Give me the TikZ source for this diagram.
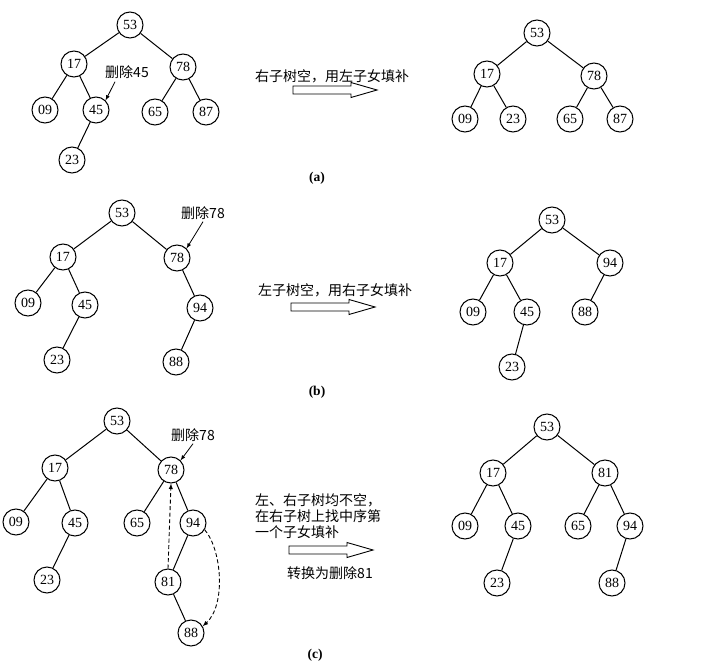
\documentclass[tikz,border=0pt]{standalone}
\usepackage{fontspec}
\setmainfont{Liberation Serif}
\newfontfamily\cjk{Noto Sans CJK SC}

% hollow arrow between the two trees
\newcommand\fatarrow[1]{\draw[line width=0.9pt, line join=miter] (#1) ++(-42, -4) -- ++(58, 0) -- ++(0, -3.5) -- ++(26, 7.5) -- ++(-26, 7.5) -- ++(0, -3.5) -- ++(-58, 0) -- cycle;}

\begin{document}
\begin{tikzpicture}[x=1pt, y=-1pt,
  num/.style={draw, circle, line width=1pt, minimum size=26pt, inner sep=0pt, font=\fontsize{14}{14}\selectfont},
  link/.style={line width=1pt},
  remark/.style={font=\cjk\fontsize{14}{16}\selectfont, inner sep=0pt},
  pointer/.style={line width=0.8pt, -latex},
  hint/.style={line width=0.9pt, dash pattern=on 4pt off 2.5pt, -latex},
  sublabel/.style={font=\bfseries\fontsize{13.5}{14}\selectfont}]
\useasboundingbox (0, 0) rectangle (713, 669);
% (a)
\node[num] (a53) at (130, 25) {53};
\node[num] (a17) at (74, 64) {17};
\node[num] (a78) at (183, 67) {78};
\node[num] (a09) at (45, 110) {09};
\node[num] (a45) at (96, 110) {45};
\node[num] (a65) at (155, 112) {65};
\node[num] (a87) at (206, 112) {87};
\node[num] (a23) at (72, 160) {23};
\draw[link] (a53) -- (a17) (a53) -- (a78) (a17) -- (a09) (a17) -- (a45) (a45) -- (a23) (a78) -- (a65) (a78) -- (a87);
\node[remark] (adel) at (127, 72) {删除45};
\draw[pointer] ([xshift=-12pt, yshift=-3pt]adel.south) -- (a45.north east);
\node[remark, anchor=west] (atext) at (255, 76) {右子树空，用左子女填补};
\coordinate (aarrow) at (335, 90);
\fatarrow{aarrow}
\node[sublabel] (acap) at (317, 178) {(a)};
\node[num] (ar53) at (537, 33) {53};
\node[num] (ar17) at (487, 74) {17};
\node[num] (ar78) at (594, 76) {78};
\node[num] (ar09) at (465, 119) {09};
\node[num] (ar23) at (513, 119) {23};
\node[num] (ar65) at (570, 119) {65};
\node[num] (ar87) at (620, 119) {87};
\draw[link] (ar53) -- (ar17) (ar53) -- (ar78) (ar17) -- (ar09) (ar17) -- (ar23) (ar78) -- (ar65) (ar78) -- (ar87);
% (b)
\node[num] (b53) at (122, 213) {53};
\node[num] (b17) at (63, 257) {17};
\node[num] (b78) at (177, 258) {78};
\node[num] (b09) at (28, 303) {09};
\node[num] (b45) at (85, 305) {45};
\node[num] (b94) at (200, 308) {94};
\node[num] (b23) at (57, 360) {23};
\node[num] (b88) at (176, 362) {88};
\draw[link] (b53) -- (b17) (b53) -- (b78) (b17) -- (b09) (b17) -- (b45) (b45) -- (b23) (b78) -- (b94) (b94) -- (b88);
\node[remark] (bdel) at (203, 213) {删除78};
\draw[pointer] ([yshift=-2pt]bdel.south) -- (b78.north east);
\node[remark, anchor=west] (btext) at (258, 290) {左子树空，用右子女填补};
\coordinate (barrow) at (333, 307);
\fatarrow{barrow}
\node[sublabel] (bcap) at (317, 392) {(b)};
\node[num] (br53) at (552, 220) {53};
\node[num] (br17) at (500, 263) {17};
\node[num] (br94) at (610, 263) {94};
\node[num] (br09) at (473, 312) {09};
\node[num] (br45) at (527, 312) {45};
\node[num] (br88) at (585, 312) {88};
\node[num] (br23) at (512, 367) {23};
\draw[link] (br53) -- (br17) (br53) -- (br94) (br17) -- (br09) (br17) -- (br45) (br45) -- (br23) (br94) -- (br88);
% (c)
\node[num] (c53) at (117, 421) {53};
\node[num] (c17) at (55, 468) {17};
\node[num] (c78) at (171, 470) {78};
\node[num] (c09) at (16, 522) {09};
\node[num] (c45) at (75, 523) {45};
\node[num] (c65) at (137, 523) {65};
\node[num] (c94) at (193, 523) {94};
\node[num] (c23) at (47, 580) {23};
\node[num] (c81) at (168, 582) {81};
\node[num] (c88) at (191, 633) {88};
\draw[link] (c53) -- (c17) (c53) -- (c78) (c17) -- (c09) (c17) -- (c45) (c45) -- (c23) (c78) -- (c65) (c78) -- (c94) (c94) -- (c81) (c81) -- (c88);
\node[remark] (cdel) at (193, 435) {删除78};
\draw[pointer] ([yshift=-2pt]cdel.south) -- (c78.north east);
\draw[hint] (c81.north) -- (c78.south);
\draw[hint] (c94.-30) .. controls (222, 550) and (226, 605) .. (c88.30);
\node[remark, anchor=north west, align=left] (ctext) at (255, 493) {左、右子树均不空，\\在右子树上找中序第\\一个子女填补};
\coordinate (carrow) at (331, 550);
\fatarrow{carrow}
\node[remark] (cnote) at (330, 573) {转换为删除81};
\node[sublabel] (ccap) at (315, 655) {(c)};
\node[num] (cr53) at (547, 427) {53};
\node[num] (cr17) at (493, 473) {17};
\node[num] (cr81) at (605, 473) {81};
\node[num] (cr09) at (465, 526) {09};
\node[num] (cr45) at (518, 526) {45};
\node[num] (cr65) at (578, 526) {65};
\node[num] (cr94) at (630, 526) {94};
\node[num] (cr23) at (497, 583) {23};
\node[num] (cr88) at (612, 583) {88};
\draw[link] (cr53) -- (cr17) (cr53) -- (cr81) (cr17) -- (cr09) (cr17) -- (cr45) (cr45) -- (cr23) (cr81) -- (cr65) (cr81) -- (cr94) (cr94) -- (cr88);
\end{tikzpicture}
\end{document}
